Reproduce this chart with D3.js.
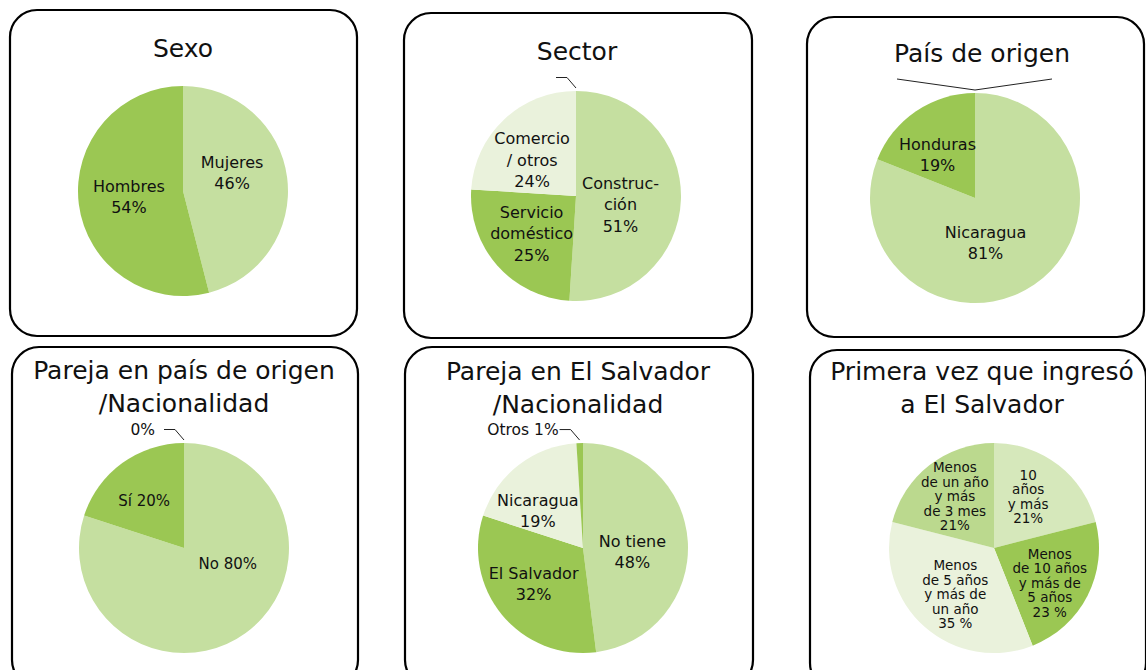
<!DOCTYPE html>
<html>
<head>
<meta charset="utf-8">
<script src="https://cdn.jsdelivr.net/npm/d3@7"></script>
<style>
  body { margin: 0; background: #fff; }
  text { font-family: "DejaVu Sans", sans-serif; fill: #111; }
</style>
</head>
<body>
<svg id="chart" width="1146" height="670"></svg>
<script>
// values (clockwise from 12 o'clock)
const sexoLabels = ["Mujeres\n46%", "Hombres\n54%"];
const sexoValues = [46, 54];

const sectorLabels = ["Construc-\nción\n51%", "Servicio\ndoméstico\n25%", "Comercio\n/ otros\n24%", ""];
const sectorValues = [51, 25, 24, 0];

const origenLabels = ["Nicaragua\n81%", "Honduras\n19%"];
const origenValues = [81, 19];

const parejaOrigenLabels = ["No 80%", "Sí 20%", "0%"];
const parejaOrigenValues = [80, 20, 0];

const parejaSvLabels = ["No tiene\n48%", "El Salvador\n32%", "Nicaragua\n19%", "Otros 1%"];
const parejaSvValues = [48, 32, 19, 1];

const ingresoLabels = ["10\naños\ny más\n21%", "Menos\nde 10 años\ny más de\n5 años\n23 %",
                       "Menos\nde 5 años\ny más de\nun año\n35 %", "Menos\nde un año\ny más\nde 3 mes\n21%"];
const ingresoValues = [21, 23, 35, 21];

// colours
const LIGHT = "#C5DFA0", DARK = "#9BC753", PALE = "#EAF2DC", MID = "#BBD98E", SOFT = "#D6E8BB";

// panel layout
const panels = [
  { title: ["Sexo"], labels: sexoLabels, values: sexoValues, colors: [LIGHT, DARK],
    box: [10, 10, 347, 326], cx: 183, cy: 191, r: 105, tx: 183, ty: 57, fs: 16, lh: 21,
    nudge: [[-3, -12], [-2, -1]] },
  { title: ["Sector"], labels: sectorLabels, values: sectorValues, colors: [LIGHT, DARK, PALE, DARK],
    box: [404, 13, 348, 325], cx: 576, cy: 196, r: 105, tx: 577, ty: 60, fs: 16, lh: 21.5,
    nudge: [[-8, 7], [-5, 3], [-8, 2], [0, 0]], leader: [3], gap: 1 },
  { title: ["País de origen"], labels: origenLabels, values: origenValues, colors: [LIGHT, DARK],
    box: [807, 17, 337, 320], cx: 975, cy: 198, r: 105, tx: 982, ty: 62, fs: 16, lh: 21,
    nudge: [[-19, 1], [-8, 0]], brace: true },
  { title: ["Pareja en país de origen", "/Nacionalidad"], labels: parejaOrigenLabels, values: parejaOrigenValues,
    colors: [LIGHT, DARK, DARK],
    box: [12, 347, 346, 340], cx: 184, cy: 548, r: 105, tx: 184, ty: 379, fs: 15, lh: 20,
    nudge: [[13, -27], [-9, -5], [0, 0]], leader: [2], gap: 9 },
  { title: ["Pareja en El Salvador", "/Nacionalidad"], labels: parejaSvLabels, values: parejaSvValues,
    colors: [LIGHT, DARK, PALE, DARK],
    box: [405, 347, 348, 340], cx: 583, cy: 548, r: 105, tx: 578, ty: 380, fs: 16, lh: 21,
    nudge: [[-3, 7], [-9, 2], [-13, 4], [0, 0]], leader: [3], gap: 1 },
  { title: ["Primera vez que ingresó", "a El Salvador"], labels: ingresoLabels, values: ingresoValues,
    colors: [SOFT, DARK, PALE, MID],
    box: [810, 350, 336, 340], cx: 994, cy: 548, r: 105, tx: 982, ty: 380, fs: 13.5, lh: 14.5,
    nudge: [[2, -10], [9, 11], [-4, 7], [-7, -10]] }
];

const svg = d3.select("#chart");

panels.forEach(function(p) {
  const g = svg.append("g");

  g.append("rect")
    .attr("x", p.box[0]).attr("y", p.box[1])
    .attr("width", p.box[2]).attr("height", p.box[3])
    .attr("rx", 27).attr("ry", 27)
    .attr("fill", "none").attr("stroke", "#000").attr("stroke-width", 2.2);

  p.title.forEach(function(t, i) {
    g.append("text")
      .attr("x", p.tx).attr("y", p.ty + i * 33)
      .attr("text-anchor", "middle")
      .attr("font-size", 25)
      .text(t);
  });

  const pie = d3.pie().sort(null).value(d => d)(p.values);
  const arc = d3.arc().innerRadius(0).outerRadius(p.r);
  const pg = g.append("g").attr("transform", "translate(" + p.cx + "," + p.cy + ")");

  pg.selectAll("path")
    .data(pie)
    .join("path")
      .attr("d", arc)
      .attr("fill", (d, i) => p.colors[i]);

  const leaders = p.leader || [];

  pie.forEach(function(d, i) {
    const label = p.labels[i];
    if (leaders.indexOf(i) >= 0) {
      // small slice: label outside with a bent leader line
      const a = (d.startAngle + d.endAngle) / 2;
      const x0 = Math.sin(a) * (p.r + 3), y0 = -Math.cos(a) * (p.r + 3);
      const x1 = x0 - 9, y1 = y0 - 10.5;
      const x2 = x1 - 11;
      pg.append("path")
        .attr("d", "M" + x0 + "," + y0 + "L" + x1 + "," + y1 + "L" + x2 + "," + y1)
        .attr("fill", "none").attr("stroke", "#222").attr("stroke-width", 1);
      if (label) {
        pg.append("text")
          .attr("x", x2 - p.gap).attr("y", y1 + 5)
          .attr("text-anchor", "end")
          .attr("font-size", 15.5)
          .text(label);
      }
      return;
    }
    const c = arc.centroid(d);
    const n = p.nudge[i] || [0, 0];
    const lines = label.split("\n");
    const t = pg.append("text")
      .attr("text-anchor", "middle")
      .attr("font-size", p.fs);
    lines.forEach(function(line, k) {
      t.append("tspan")
        .attr("x", c[0] + n[0])
        .attr("y", c[1] + n[1] - (lines.length - 1) * p.lh / 2 + p.fs * 0.36 + k * p.lh)
        .text(line);
    });
  });

  if (p.brace) {
    const top = -p.r;
    pg.append("path")
      .attr("d", "M-78," + (top - 14) + "L0," + (top - 3) + "L77," + (top - 14))
      .attr("fill", "none").attr("stroke", "#222").attr("stroke-width", 1);
  }
});
</script>
</body>
</html>
